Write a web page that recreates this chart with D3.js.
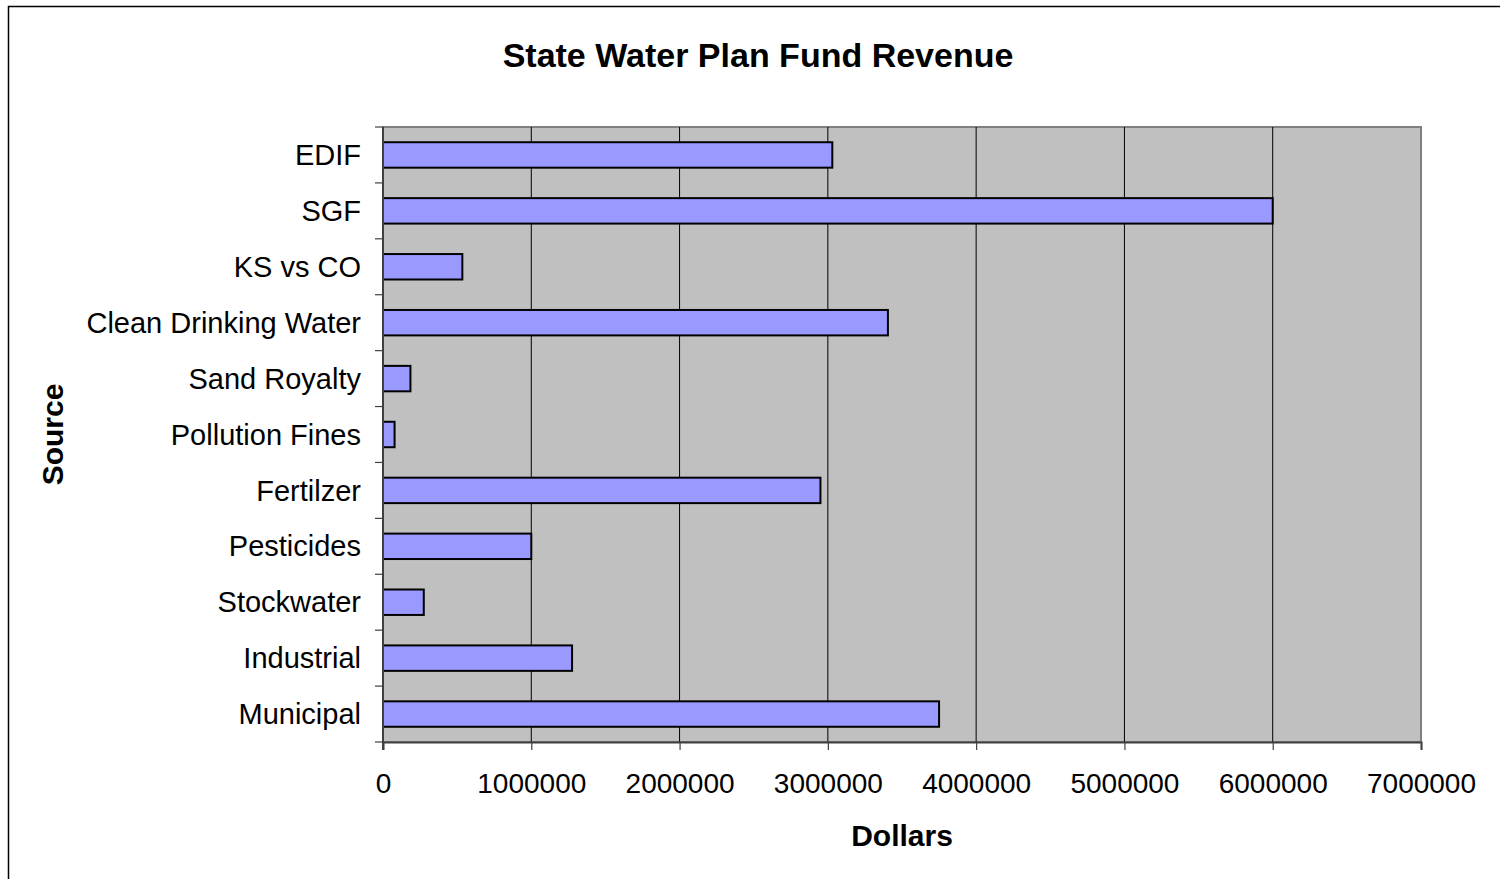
<!DOCTYPE html>
<html>
<head>
<meta charset="utf-8">
<script src="https://cdn.jsdelivr.net/npm/d3@7"></script>
<style>
  html, body { margin: 0; padding: 0; background: #fff; }
  svg { display: block; font-family: "Liberation Sans", Arial, sans-serif; }
</style>
</head>
<body>
<svg id="chart" width="1507" height="879"></svg>
<script>
const categories = ["EDIF", "SGF", "KS vs CO", "Clean Drinking Water", "Sand Royalty",
  "Pollution Fines", "Fertilzer", "Pesticides", "Stockwater", "Industrial", "Municipal"];
const revenue = [3030000, 6000000, 535000, 3405000, 185000, 78000, 2950000, 1000000, 275000, 1275000, 3750000];
const xTicks = [0, 1000000, 2000000, 3000000, 4000000, 5000000, 6000000, 7000000];
const chartTitle = "State Water Plan Fund Revenue";
const xTitle = "Dollars";
const yTitle = "Source";

const svg = d3.select("#chart");
const m = { left: 383, top: 127, right: 1421, bottom: 742 };

// outer border (top & left visible)
svg.append("path")
  .attr("d", "M8.5,879 V6.5 H1500")
  .attr("fill", "none").attr("stroke", "#000").attr("stroke-width", 1.5);

const x = d3.scaleLinear().domain([0, 7000000]).range([m.left, m.right]);
const y = d3.scaleBand().domain(categories).range([m.top, m.bottom]).paddingInner(0.545).paddingOuter(0.2725);

// plot background
svg.append("rect")
  .attr("x", m.left).attr("y", m.top)
  .attr("width", m.right - m.left).attr("height", m.bottom - m.top)
  .attr("fill", "#c0c0c0").attr("stroke", "#808080").attr("stroke-width", 2);

// gridlines
svg.append("g").selectAll("line").data(xTicks.slice(1, -1)).join("line")
  .attr("x1", d => x(d)).attr("x2", d => x(d))
  .attr("y1", m.top).attr("y2", m.bottom)
  .attr("stroke", "#000").attr("stroke-width", 1);

// bars
svg.append("g").selectAll("rect").data(categories).join("rect")
  .attr("x", x(0))
  .attr("y", d => y(d))
  .attr("width", (d, i) => x(revenue[i]) - x(0))
  .attr("height", y.bandwidth())
  .attr("fill", "#9999ff").attr("stroke", "#000").attr("stroke-width", 2);

// x axis
const xAxis = svg.append("g").attr("transform", `translate(0,${m.bottom})`)
  .call(d3.axisBottom(x).tickValues(xTicks).tickFormat(d3.format("d")).tickSize(8).tickPadding(23));
xAxis.select(".domain").attr("stroke", "#404040").attr("stroke-width", 2);
xAxis.selectAll(".tick line").attr("stroke", "#404040").attr("stroke-width", 1.2);
xAxis.selectAll("text").attr("font-size", 28).attr("fill", "#000")
  .attr("font-family", "'Liberation Sans', Arial, sans-serif");

// y axis: ticks at category boundaries
const yAxisG = svg.append("g");
yAxisG.append("line").attr("x1", m.left).attr("x2", m.left).attr("y1", m.top).attr("y2", m.bottom + 8)
  .attr("stroke", "#404040").attr("stroke-width", 2);
const step = y.step();
const boundaries = categories.map(c => y(c) - y.paddingInner() * step / 2).concat([m.bottom]);
yAxisG.selectAll(".yt").data(boundaries).join("line").attr("class", "yt")
  .attr("x1", m.left - 8).attr("x2", m.left)
  .attr("y1", d => d).attr("y2", d => d)
  .attr("stroke", "#404040").attr("stroke-width", 1.2);
yAxisG.selectAll("text").data(categories).join("text")
  .attr("x", m.left - 22)
  .attr("y", d => y(d) + y.bandwidth() / 2)
  .attr("dy", "0.35em")
  .attr("text-anchor", "end")
  .attr("font-size", 29)
  .text(d => d);

// titles
svg.append("text").attr("x", 758).attr("y", 67).attr("text-anchor", "middle")
  .attr("font-size", 34).attr("font-weight", "bold").text(chartTitle);
svg.append("text").attr("x", (m.left + m.right) / 2).attr("y", 846).attr("text-anchor", "middle")
  .attr("font-size", 30).attr("font-weight", "bold").text(xTitle);
svg.append("text").attr("transform", `translate(63,${(m.top + m.bottom) / 2}) rotate(-90)`)
  .attr("text-anchor", "middle")
  .attr("font-size", 30).attr("font-weight", "bold").text(yTitle);
</script>
</body>
</html>
